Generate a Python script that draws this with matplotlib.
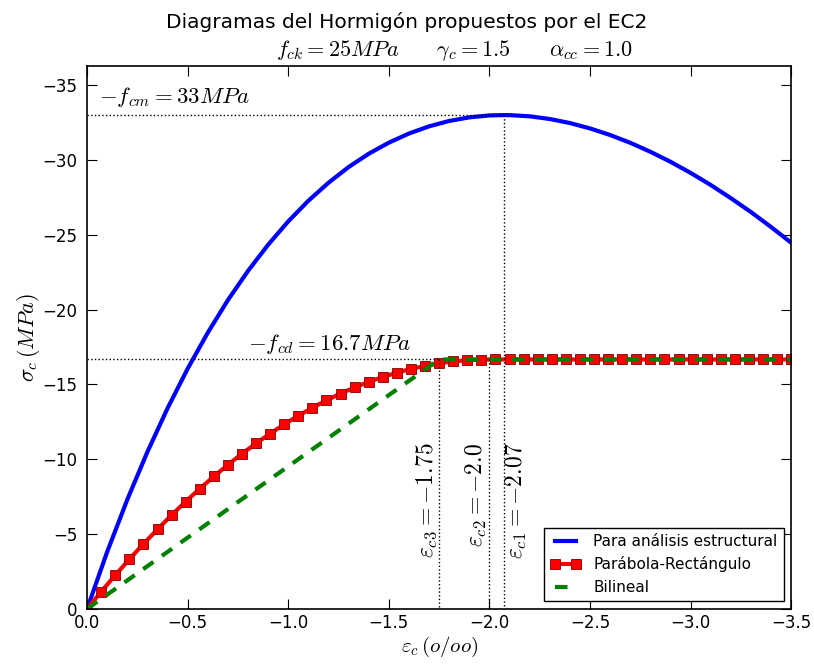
import numpy as np
import matplotlib
matplotlib.use("Agg")
import matplotlib.pyplot as plt

plt.rcParams['mathtext.fontset'] = 'cm'
plt.rcParams['font.family'] = ['DejaVu Sans']
plt.rcParams['xtick.direction'] = 'in'
plt.rcParams['ytick.direction'] = 'in'
plt.rcParams['xtick.top'] = True
plt.rcParams['ytick.right'] = True

# parametros
fck = 25
fcm = 33
fcd = 16.67
eps_c1 = -2.07
eps_c2 = -2.0
eps_c3 = -1.75

# curva para analisis estructural
eps_est = [0, -0.1, -0.2, -0.3, -0.4, -0.5, -0.6, -0.7, -0.8, -0.9, -1.0, -1.1, -1.2,
           -1.3, -1.4, -1.5, -1.6, -1.7, -1.8, -1.9, -2.0, -2.07, -2.1, -2.2, -2.3,
           -2.4, -2.5, -2.6, -2.7, -2.8, -2.9, -3.0, -3.1, -3.2, -3.3, -3.4, -3.5]
sig_est = [0, -3.82, -7.31, -10.50, -13.41, -16.06, -18.46, -20.64, -22.59, -24.34,
           -25.90, -27.28, -28.48, -29.53, -30.42, -31.16, -31.77, -32.25, -32.61,
           -32.85, -32.98, -33.0, -33.0, -32.92, -32.74, -32.47, -32.11, -31.67,
           -31.15, -30.55, -29.88, -29.14, -28.33, -27.45, -26.52, -25.52, -24.47]

# parabola-rectangulo (un punto cada 0.07)
eps_pr = [-0.07 * i for i in range(51)]
sig_pr = [0, -1.15, -2.25, -3.32, -4.34, -5.32, -6.27, -7.17, -8.03, -8.85, -9.63,
          -10.37, -11.06, -11.72, -12.33, -12.91, -13.44, -13.94, -14.39, -14.80,
          -15.17, -15.50, -15.79, -16.04, -16.24, -16.41, -16.54, -16.62, -16.66] + [-16.67] * 22

# bilineal
eps_bl = [0, -1.75, -3.5]
sig_bl = [0, -16.67, -16.67]

fig = plt.figure(figsize=(8.14, 6.64), dpi=100)
ax = fig.add_axes([0.107, 0.083, 0.865, 0.818])

ax.plot(eps_est, sig_est, color='b', lw=3, label=u'Para análisis estructural')
ax.plot(eps_pr, sig_pr, color='r', lw=3, marker='s', markersize=7,
        markeredgecolor='#800000', markeredgewidth=0.6, label=u'Parábola-Rectángulo')
ax.plot(eps_bl, sig_bl, color='g', lw=3, ls='--', dashes=(3, 2.5), label='Bilineal')

# lineas auxiliares
ax.plot([0, eps_c1], [-fcm, -fcm], 'k:', lw=1)
ax.plot([eps_c1, eps_c1], [-fcm, 0], 'k:', lw=1)
ax.plot([0, eps_c3], [-fcd, -fcd], 'k:', lw=1)
ax.plot([eps_c3, eps_c3], [-fcd, 0], 'k:', lw=1)
ax.plot([eps_c2, eps_c2], [-fcd, 0], 'k:', lw=1)

ax.text(-0.06, -33.4, r'$-f_{cm}=33MPa$', fontsize=16.5, va='bottom', ha='left')
ax.text(-0.8, -16.9, r'$-f_{cd}=16.7MPa$', fontsize=16.5, va='bottom', ha='left')
ax.text(eps_c3, -11.1, r'$\varepsilon_{c3}=-1.75$', fontsize=17, rotation=90,
        ha='right', va='top')
ax.text(eps_c2, -11.1, r'$\varepsilon_{c2}=-2.0$', fontsize=17, rotation=90,
        ha='right', va='top')
ax.text(eps_c1, -11.1, r'$\varepsilon_{c1}=-2.07$', fontsize=17, rotation=90,
        ha='left', va='top')

ax.set_xlim(0, -3.5)
ax.set_ylim(0, -1.1 * fcm)
ax.set_xticks(np.arange(0, -3.51, -0.5))
ax.set_yticks(np.arange(0, -35.1, -5))
ax.set_xticklabels(['0.0', '\u22120.5', '\u22121.0', '\u22121.5', '\u22122.0',
                    '\u22122.5', '\u22123.0', '\u22123.5'])
ax.set_yticklabels(['0', '\u22125', '\u221210', '\u221215', '\u221220',
                    '\u221225', '\u221230', '\u221235'])
ax.tick_params(labelsize=12, length=7, width=0.8, pad=4)
ax.tick_params(axis='y', pad=7)
for s in ax.spines.values():
    s.set_linewidth(1.2)

ax.set_xlabel(r'$\varepsilon_c\,(o/oo)$', fontsize=15, labelpad=2)
ax.set_ylabel(r'$\sigma_c\,(MPa)$', fontsize=16, labelpad=0)

fig.text(0.5, 0.967, u'Diagramas del Hormigón propuestos por el EC2', fontsize=14.5,
         ha='center', va='center')
fig.text(0.558, 0.924, r'$f_{ck}=25MPa\qquad\gamma_c=1.5\qquad\alpha_{cc}=1.0$',
         fontsize=16, ha='center', va='center')

leg = ax.legend(loc='lower right', fontsize=11, fancybox=False, framealpha=1,
                edgecolor='k', handlelength=2.0, numpoints=2, borderaxespad=0.5)
leg.get_frame().set_linewidth(1.0)

fig.savefig('out.png', dpi=100, facecolor='white')
